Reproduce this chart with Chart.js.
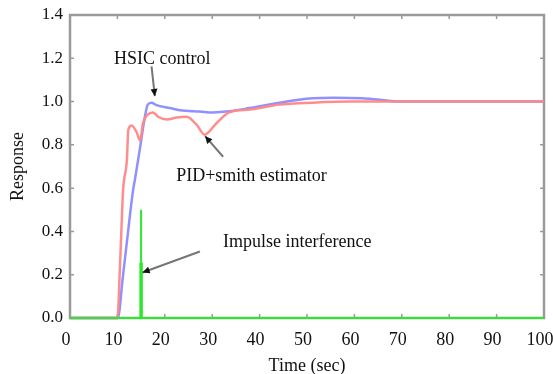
<!DOCTYPE html>
<html>
<head>
<meta charset="utf-8">
<script src="https://cdn.jsdelivr.net/npm/chart.js@4"></script>
<style>
  html, body { margin: 0; padding: 0; background: #fff; }
  #wrap { width: 553px; height: 374px; }
</style>
</head>
<body>
<div id="wrap"><canvas id="respChart" width="553" height="374"></canvas></div>
<script>
// time axis ticks
var xTicks = [0, 10, 20, 30, 40, 50, 60, 70, 80, 90, 100];
var yTicks = [0, 0.2, 0.4, 0.6, 0.8, 1.0, 1.2, 1.4];

// HSIC control response
var hsicTime = [0, 10.1, 11.1, 12.1, 13.3, 13.7, 14.8, 15.8, 16.4, 17.2, 18.1, 21.1, 23.2, 27.4, 30.1, 33.6, 37.9, 44.2, 51.2, 55.6, 61.6, 65.3, 69.6, 100];
var hsicResp = [0, 0, 0.18, 0.37, 0.59, 0.64, 0.79, 0.93, 0.986, 0.995, 0.985, 0.97, 0.96, 0.954, 0.95, 0.955, 0.97, 0.995, 1.015, 1.018, 1.015, 1.008, 1.0, 1.0];

// PID + smith estimator response
var pidTime = [0, 10.0, 10.6, 11.2, 12.0, 12.3, 13.0, 14.1, 14.8, 15.4, 16.4, 17.5, 18.6, 20.4, 22.5, 24.6, 26.7, 28.4, 30.9, 33.6, 37.9, 44.2, 51.2, 59.6, 100];
var pidResp = [0, 0, 0.27, 0.59, 0.73, 0.87, 0.89, 0.856, 0.82, 0.9, 0.94, 0.95, 0.93, 0.917, 0.926, 0.93, 0.893, 0.847, 0.9, 0.95, 0.963, 0.986, 0.995, 1.0, 1.0];

// impulse interference
var impTime = [0, 15.0, 15.0, 15.0, 100];
var impResp = [0, 0, 0.5, 0, 0];
var impBaseTime = [15.0, 15.0];
var impBaseResp = [0, 0.255];

// annotations [text, x, y] and arrows [x0, y0, x1, y1] in data units
var labels = [
    ['HSIC control', 9.3, 1.194],
    ['PID+smith estimator', 22.4, 0.657],
    ['Impulse interference', 32.3, 0.352]
];
var arrows = [
    [17.2, 1.163, 17.9, 1.025],
    [32.3, 0.745, 28.5, 0.84],
    [27.4, 0.307, 15.3, 0.21]
];

function pts(xs, ys) {
    return xs.map(function(x, i) { return {x: x, y: ys[i]}; });
}

var serif = '"Liberation Serif", "Times New Roman", serif';

var frame = {
    id: 'frame',
    beforeDatasetsDraw: function(chart) {
        var c = chart.ctx, a = chart.chartArea;
        var sx = chart.scales.x, sy = chart.scales.y;
        c.save();
        c.strokeStyle = '#9a9a9a';
        c.lineWidth = 1.5;
        // small inward ticks
        xTicks.slice(1, -1).forEach(function(v) {
            var px = sx.getPixelForValue(v);
            c.beginPath();
            c.moveTo(px, a.bottom); c.lineTo(px, a.bottom - 4);
            c.moveTo(px, a.top); c.lineTo(px, a.top + 4);
            c.stroke();
        });
        yTicks.slice(1, -1).forEach(function(v) {
            var py = sy.getPixelForValue(v);
            c.beginPath();
            c.moveTo(a.left, py); c.lineTo(a.left + 4, py);
            c.moveTo(a.right, py); c.lineTo(a.right - 4, py);
            c.stroke();
        });
        c.lineWidth = 2.5;
        c.strokeRect(a.left, a.top, a.right - a.left, a.bottom - a.top);
        c.restore();
    },
    afterDatasetsDraw: function(chart) {
        var c = chart.ctx;
        var sx = chart.scales.x, sy = chart.scales.y;
        c.save();
        // arrows
        arrows.forEach(function(ar) {
            var x0 = sx.getPixelForValue(ar[0]), y0 = sy.getPixelForValue(ar[1]);
            var x1 = sx.getPixelForValue(ar[2]), y1 = sy.getPixelForValue(ar[3]);
            var ang = Math.atan2(y1 - y0, x1 - x0);
            c.strokeStyle = '#757575';
            c.lineWidth = 2;
            c.beginPath(); c.moveTo(x0, y0); c.lineTo(x1, y1); c.stroke();
            c.fillStyle = '#111';
            c.beginPath();
            c.moveTo(x1, y1);
            c.lineTo(x1 - 8 * Math.cos(ang - 0.45), y1 - 8 * Math.sin(ang - 0.45));
            c.lineTo(x1 - 8 * Math.cos(ang + 0.45), y1 - 8 * Math.sin(ang + 0.45));
            c.closePath(); c.fill();
        });

        // text labels
        c.fillStyle = '#111';
        c.font = '18px ' + serif;
        c.textAlign = 'left';
        c.textBaseline = 'middle';
        labels.forEach(function(l) {
            c.fillText(l[0], sx.getPixelForValue(l[1]), sy.getPixelForValue(l[2]));
        });
        c.restore();
    }
};

var ctx = document.getElementById('respChart').getContext('2d');
var respChart = new Chart(ctx, {
    type: 'line',
    data: {
        datasets: [{
            label: 'Impulse',
            data: pts(impTime, impResp),
            borderColor: '#2be82b',
            borderWidth: 2,
            tension: 0,
            clip: 4
        }, {
            label: 'Impulse base',
            data: pts(impBaseTime, impBaseResp),
            borderColor: '#2be82b',
            borderWidth: 3.5,
            tension: 0,
            clip: 4
        }, {
            label: 'PID+smith estimator',
            data: pts(pidTime, pidResp),
            borderColor: 'rgba(255, 135, 135, 0.95)',
            borderWidth: 2.5,
            cubicInterpolationMode: 'monotone',
            clip: 4
        }, {
            label: 'HSIC control',
            data: pts(hsicTime, hsicResp),
            borderColor: 'rgba(125, 125, 255, 0.85)',
            borderWidth: 2.5,
            cubicInterpolationMode: 'monotone',
            clip: 4
        }]
    },
    options: {
        responsive: false,
        animation: false,
        layout: { padding: { top: 15, right: 9, left: 0, bottom: 0 } },
        elements: { point: { radius: 0 } },
        scales: {
            x: {
                type: 'linear',
                min: 0, max: 100,
                afterFit: function(s) { s.height = 56; s.paddingLeft = 0; s.paddingRight = 0; },
                afterBuildTicks: function(s) { s.ticks = xTicks.map(function(v) { return {value: v}; }); },
                grid: { display: false, drawTicks: false },
                border: { display: false },
                ticks: {
                    color: '#111',
                    padding: 11,
                    labelOffset: -4,
                    maxRotation: 0,
                    autoSkip: false,
                    font: { family: serif, size: 18 }
                },
                title: {
                    display: true,
                    text: 'Time (sec)',
                    color: '#111',
                    padding: { top: 0, bottom: -1 },
                    font: { family: serif, size: 18, lineHeight: 1 }
                }
            },
            y: {
                min: 0, max: 1.4,
                afterFit: function(s) { s.width = 70; s.paddingTop = 0; s.paddingBottom = 0; },
                afterBuildTicks: function(s) { s.ticks = yTicks.map(function(v) { return {value: v}; }); },
                grid: { display: false, drawTicks: false },
                border: { display: false },
                ticks: {
                    color: '#111',
                    padding: 7,
                    font: { family: serif, size: 17 },
                    callback: function(v) { return v.toFixed(1); }
                },
                title: {
                    display: true,
                    text: 'Response',
                    color: '#111',
                    padding: { top: 9, bottom: 0 },
                    font: { family: serif, size: 18, lineHeight: 1 }
                }
            }
        },
        plugins: {
            legend: { display: false },
            tooltip: { enabled: false }
        }
    },
    plugins: [frame]
});
</script>
</body>
</html>
